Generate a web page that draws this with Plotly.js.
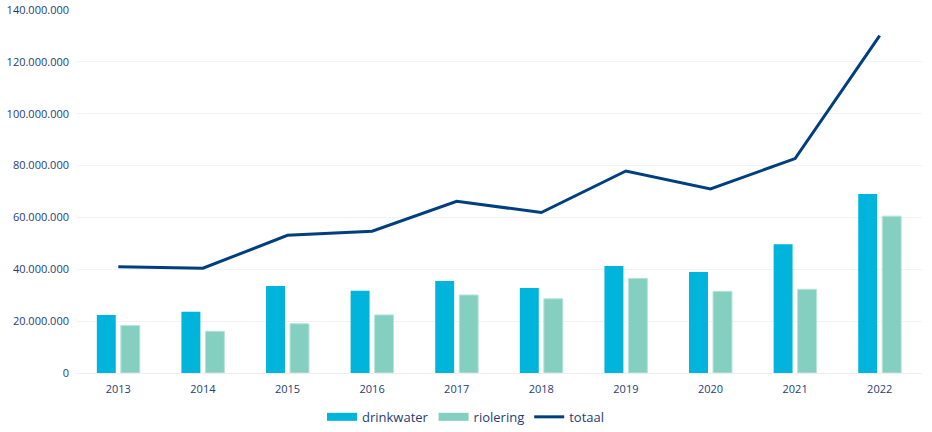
<!DOCTYPE html>
<html>
<head>
<meta charset="utf-8">
<script src="https://cdn.plot.ly/plotly-3.0.1.min.js"></script>
<style>html,body{margin:0;padding:0;background:#fff;}#chart{width:932px;height:432px;}</style>
</head>
<body>
<div id="chart"></div>
<script>
const years = ['2013','2014','2015','2016','2017','2018','2019','2020','2021','2022'];
const drinkwater = [22400000, 23600000, 33600000, 31700000, 35500000, 32800000, 41300000, 39000000, 49700000, 69000000];
const riolering = [18300000, 16100000, 19000000, 22400000, 30100000, 28600000, 36500000, 31500000, 32300000, 60500000];
const totaal = [41000000, 40400000, 53100000, 54700000, 66200000, 61900000, 77900000, 71000000, 82700000, 130100000];
const yTicks = [0, 20000000, 40000000, 60000000, 80000000, 100000000, 120000000, 140000000];

const txt = '#1f3d73';
const cDrink = '#00b4dc', cRiol = '#85cfc0', cTot = '#003f7f';
const traces = [
  {type:'bar', name:'drinkwater', x:years, y:drinkwater, showlegend:false, legendgroup:'d', marker:{color:cDrink, line:{width:0}}},
  {type:'bar', name:'riolering', x:years, y:riolering, showlegend:false, legendgroup:'r', marker:{color:cRiol, line:{color:'#b8e4da', width:1}}},
  {type:'scatter', mode:'lines', name:'totaal', x:years, y:totaal, showlegend:false, legendgroup:'t', line:{color:cTot, width:3}},
  // legend entries (wide rectangular swatches like the original)
  {type:'scatter', mode:'lines', name:'drinkwater', x:[years[0]], y:[null], legendgroup:'d', line:{color:cDrink, width:8}, hoverinfo:'skip'},
  {type:'scatter', mode:'lines', name:'riolering', x:[years[0]], y:[null], legendgroup:'r', line:{color:cRiol, width:8}, hoverinfo:'skip'},
  {type:'scatter', mode:'lines', name:'totaal', x:[years[0]], y:[null], legendgroup:'t', line:{color:cTot, width:3}, hoverinfo:'skip'}
];
const layout = {
  width:932, height:432,
  margin:{l:76, r:10, t:10, b:59, autoexpand:false},
  paper_bgcolor:'#fff', plot_bgcolor:'#fff',
  separators:',.',
  font:{family:'Open Sans, sans-serif', size:11, color:txt},
  barmode:'group', bargap:0.433, bargroupgap:0.21,
  showlegend:true,
  legend:{orientation:'h', xref:'container', x:0.5, xanchor:'center', yref:'container', y:0.035, yanchor:'middle', font:{size:13, color:txt}, traceorder:'normal', itemwidth:30},
  xaxis:{type:'category', showgrid:false, showline:false, zeroline:false, ticks:'', tickfont:{size:11, color:txt}, ticklabelstandoff:8},
  yaxis:{range:[0,140000000], tickvals:yTicks, tickformat:',d', showgrid:true, gridcolor:'#f3f3f3', gridwidth:1, zeroline:true, zerolinecolor:'#eeeeee', showline:false, ticks:'', tickfont:{size:11, color:txt}, ticklabelstandoff:6}
};
Plotly.newPlot('chart', traces, layout, {displayModeBar:false, staticPlot:true});
</script>
</body>
</html>
